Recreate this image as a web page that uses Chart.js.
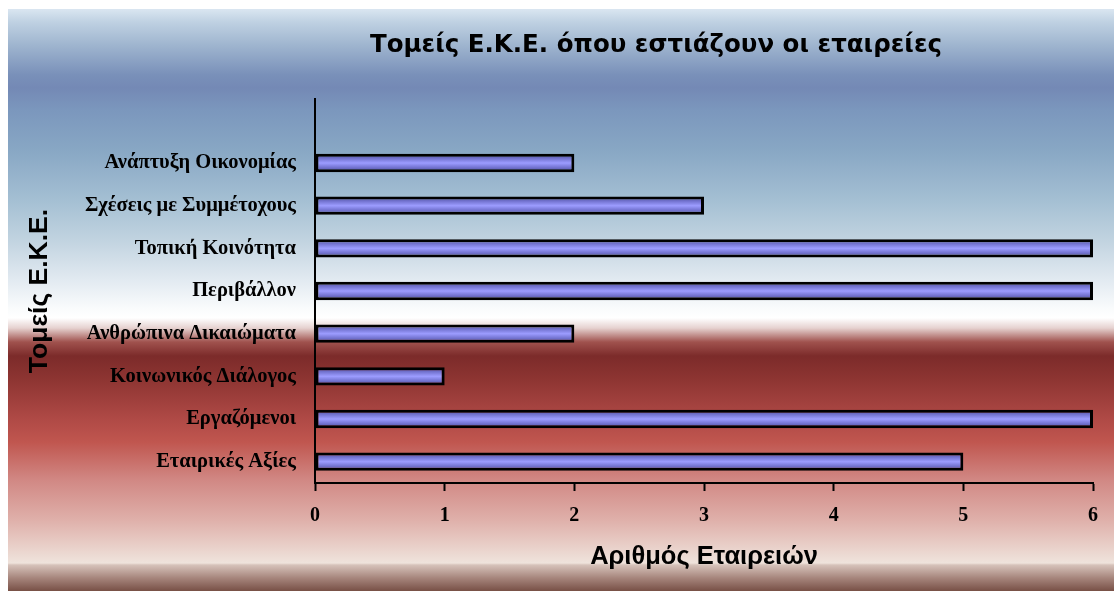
<!DOCTYPE html>
<html>
<head>
<meta charset="utf-8">
<script src="https://cdn.jsdelivr.net/npm/chart.js@4.4.0/dist/chart.umd.min.js"></script>
<style>
  html, body { margin: 0; padding: 0; background: #ffffff; }
  #wrap { position: absolute; left: 0; top: 0; width: 1114px; height: 591px; }
</style>
</head>
<body>
<div id="wrap"><canvas id="c" width="1114" height="591"></canvas></div>
<script>
// ---- data ----
const categories = ["", "Ανάπτυξη Οικονομίας", "Σχέσεις με Συμμέτοχους", "Τοπική Κοινότητα", "Περιβάλλον", "Ανθρώπινα Δικαιώματα", "Κοινωνικός Διάλογος", "Εργαζόμενοι", "Εταιρικές Αξίες"];
const companyCounts = [null, 2, 3, 6, 6, 2, 1, 6, 5];
const xTicks = [0, 1, 2, 3, 4, 5, 6];
const chartTitle = "Τομείς Ε.Κ.Ε. όπου εστιάζουν οι εταιρείες";
const xTitle = "Αριθμός Εταιρειών";
const yTitle = "Τομείς Ε.Κ.Ε.";

const bgPlugin = {
  id: 'bgGradient',
  beforeDraw(chart) {
    const ctx = chart.ctx;
    const W = chart.width, H = chart.height;
    ctx.save();
    ctx.fillStyle = '#ffffff';
    ctx.fillRect(0, 0, W, H);
    const y0 = 9, y1 = H;
    const g = ctx.createLinearGradient(0, y0, 0, y1);
    const stops = [
      [9, '#dae6f1'], [22, '#bfd1e2'], [45, '#9fb5cf'], [75, '#7990b9'], [88, '#7489b5'],
      [110, '#7b97bd'], [150, '#88a7c4'], [200, '#a4bfd3'], [240, '#c1d3e0'], [280, '#e2eaf1'],
      [308, '#f9fbfc'], [318, '#ffffff'], [328, '#e6d2d0'], [342, '#a0524e'], [356, '#7c2b2a'],
      [380, '#8e3532'], [420, '#b04a46'], [442, '#c0564f'], [480, '#d18884'], [520, '#dfb0aa'],
      [555, '#ecdad3'], [563, '#efe3dc'], [565, '#d6c2ba'], [578, '#a6857c'], [591, '#785046']
    ];
    stops.forEach(([y, c]) => g.addColorStop(Math.min(1, Math.max(0, (y - y0) / (y1 - y0))), c));
    ctx.fillStyle = g;
    ctx.fillRect(8, y0, W - 8, y1 - y0);
    ctx.restore();
  }
};

const titlePlugin = {
  id: 'chartTitleText',
  afterDraw(chart) {
    const ctx = chart.ctx;
    ctx.save();
    ctx.fillStyle = '#000000';
    ctx.font = 'bold 24.5px "DejaVu Sans"';
    ctx.textAlign = 'center';
    ctx.textBaseline = 'middle';
    ctx.fillText(chartTitle, 656, 46);
    ctx.restore();
  }
};

function barFill(context) {
  const chart = context.chart;
  const yScale = chart.scales.y;
  if (!yScale || yScale.top === undefined) return '#9999ff';
  const yc = yScale.getPixelForValue(context.dataIndex);
  const half = 9;
  const g = chart.ctx.createLinearGradient(0, yc - half, 0, yc + half);
  g.addColorStop(0, '#4a4a90');
  g.addColorStop(0.25, '#7373d0');
  g.addColorStop(0.5, '#9c9cff');
  g.addColorStop(0.75, '#7373d0');
  g.addColorStop(1, '#4a4a90');
  return g;
}

new Chart(document.getElementById('c'), {
  type: 'bar',
  data: {
    labels: categories,
    datasets: [{
      data: companyCounts,
      backgroundColor: barFill,
      borderColor: '#000000',
      borderWidth: 3,
      borderSkipped: false,
      barPercentage: 0.43,
      categoryPercentage: 1.0
    }]
  },
  options: {
    indexAxis: 'y',
    responsive: false,
    animation: false,
    devicePixelRatio: 1,
    layout: { padding: { left: 8, top: 99, right: 21, bottom: 0 } },
    plugins: {
      legend: { display: false },
      tooltip: { enabled: false },
      title: { display: false }
    },
    scales: {
      x: {
        type: 'linear',
        position: 'bottom',
        min: 0, max: 6,
        afterBuildTicks(scale) { scale.ticks = xTicks.map(v => ({ value: v })); },
        afterFit(scale) { scale.height = 108; },
        grid: { display: true, drawOnChartArea: false, drawTicks: true, tickLength: 8, tickWidth: 2, tickColor: '#000000' },
        border: { display: true, color: '#000000', width: 2 },
        ticks: {
          color: '#000000',
          padding: 13,
          font: { family: 'Liberation Serif', size: 20, weight: 'bold' }
        },
        title: {
          display: true,
          text: xTitle,
          color: '#000000',
          font: { family: 'Liberation Sans', size: 25.5, weight: 'bold', lineHeight: 1.2 },
          padding: { top: 0, bottom: 19 }
        }
      },
      y: {
        type: 'category',
        position: 'left',
        afterFit(scale) { scale.width = 307; },
        grid: { display: false },
        border: { display: true, color: '#000000', width: 2 },
        ticks: {
          color: '#000000',
          padding: 11,
          font: { family: 'Liberation Serif', size: 20.5, weight: 'bold' }
        },
        title: {
          display: true,
          text: yTitle,
          color: '#000000',
          font: { family: 'Liberation Sans', size: 26.5, weight: 'bold', lineHeight: 1.2 },
          padding: { top: 16, bottom: 0 }
        }
      }
    }
  },
  plugins: [bgPlugin, titlePlugin]
});
</script>
</body>
</html>
